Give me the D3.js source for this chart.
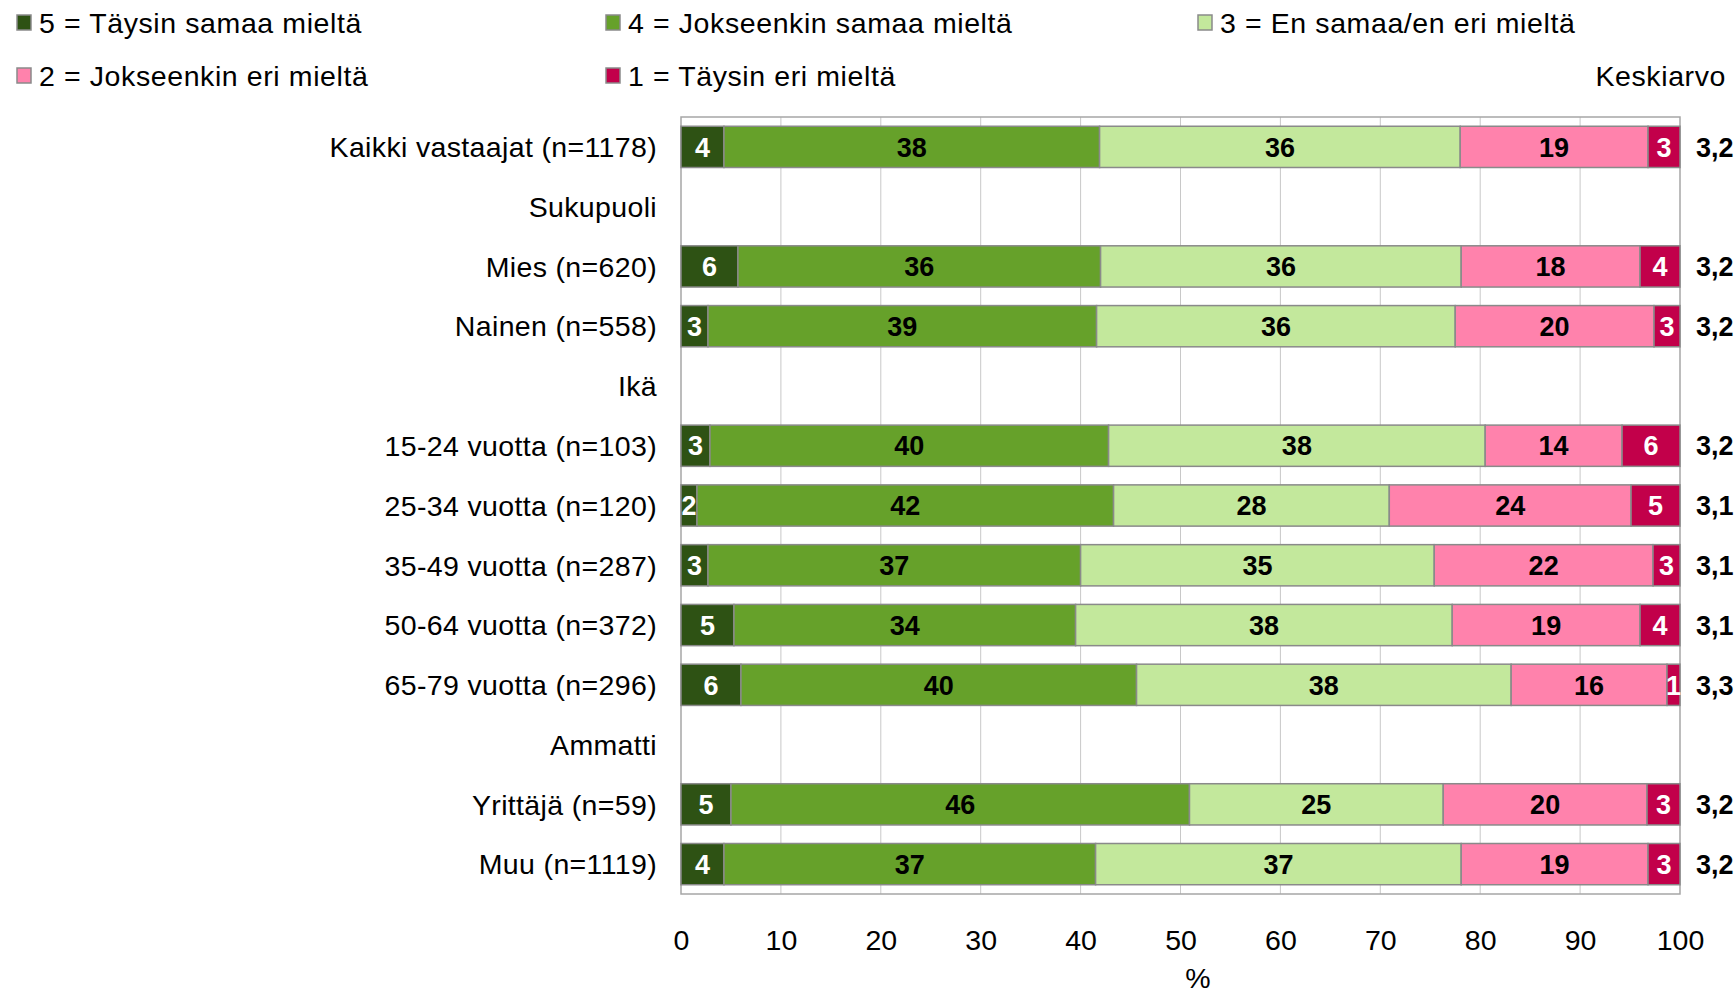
<!DOCTYPE html>
<html><head><meta charset="utf-8">
<script src="https://cdn.jsdelivr.net/npm/d3@7"></script>
<style>body{margin:0;background:#fff}svg{display:block;font-family:"Liberation Sans",Arial,sans-serif}</style>
</head><body><svg id="c" width="1735" height="993"></svg>
<script>
const categories = ["Kaikki vastaajat (n=1178)","Sukupuoli","Mies (n=620)","Nainen (n=558)","Ikä","15-24 vuotta (n=103)","25-34 vuotta (n=120)","35-49 vuotta (n=287)","50-64 vuotta (n=372)","65-79 vuotta (n=296)","Ammatti","Yrittäjä (n=59)","Muu (n=1119)"];
const seriesNames = ["5 = Täysin samaa mieltä","4 = Jokseenkin samaa mieltä","3 = En samaa/en eri mieltä","2 = Jokseenkin eri mieltä","1 = Täysin eri mieltä"];
const s5 = [4.3,null,5.7,2.7,null,2.9,1.6,2.7,5.3,6.0,null,5.0,4.3];
const s4 = [37.6,null,36.3,38.9,null,39.9,41.7,37.3,34.2,39.6,null,45.9,37.2];
const s3 = [36.1,null,36.1,35.9,null,37.7,27.6,35.4,37.7,37.5,null,25.4,36.6];
const s2 = [18.8,null,17.9,19.9,null,13.7,24.2,21.9,18.8,15.6,null,20.4,18.7];
const s1 = [3.2,null,4.0,2.6,null,5.8,4.9,2.7,4.0,1.3,null,3.3,3.2];
const averages = ["3,2","","3,2","3,2","","3,2","3,1","3,1","3,1","3,3","","3,2","3,2"];
const ticks = [0,10,20,30,40,50,60,70,80,90,100];
const colors = ["#2e5214","#66a12a","#c3e89c","#ff82ac","#c2004a"];
const labelColors = ["#fff","#000","#000","#000","#fff"];

const svg = d3.select("#c");
const x = d3.scaleLinear().domain([0,100]).range([681,1680]);
const y = d3.scaleBand().domain(categories).range([117,894]).paddingInner(0.31).paddingOuter(0.155);
const FS = 28.5, LS = 0.6, BFS = 27;

svg.append("g").selectAll("line").data(ticks.slice(1,-1)).join("line")
  .attr("x1",d=>x(d)).attr("x2",d=>x(d)).attr("y1",117).attr("y2",894)
  .attr("stroke","#c8c8c8").attr("stroke-width",1);
svg.append("rect").attr("x",x(0)).attr("y",117).attr("width",x(100)-x(0)).attr("height",894-117)
  .attr("stroke","#a6a6a6").attr("stroke-width",1.5).attr("fill","none");

const series = [s5,s4,s3,s2,s1];
const rows = categories.map((c,i)=>({c, vals: series.map(s=>s[i])}));
const gBars = svg.append("g");
rows.forEach(r=>{
  if (r.vals[0]==null) return;
  let acc = 0;
  r.vals.forEach((v,k)=>{
    const x0 = x(acc), x1 = x(acc+v);
    gBars.append("rect").attr("x",x0).attr("y",y(r.c)).attr("width",x1-x0).attr("height",y.bandwidth())
      .attr("fill",colors[k]).attr("stroke","#8a8a8a").attr("stroke-width",1.5);
    gBars.append("text").attr("x",(x0+x1)/2).attr("y",y(r.c)+y.bandwidth()/2).attr("dy","0.36em")
      .attr("text-anchor","middle").attr("font-weight","bold").attr("font-size",BFS)
      .attr("fill",labelColors[k]).text(Math.round(v));
    acc += v;
  });
});

svg.append("g").selectAll("text").data(categories).join("text")
  .attr("x",657).attr("y",d=>y(d)+y.bandwidth()/2).attr("dy","0.36em")
  .attr("text-anchor","end").attr("font-size",FS).attr("letter-spacing",0.35).attr("fill","#000").text(d=>d);

svg.append("g").selectAll("text").data(categories).join("text")
  .attr("x",1696).attr("y",d=>y(d)+y.bandwidth()/2).attr("dy","0.36em")
  .attr("font-size",BFS).attr("font-weight","bold").text((d,i)=>averages[i]);

const ax = svg.append("g").attr("transform","translate(0,894)")
  .call(d3.axisBottom(x).tickValues(ticks).tickSize(0).tickPadding(36));
ax.select(".domain").remove();
ax.selectAll("text").attr("font-size",FS).attr("fill","#000").attr("font-family","Liberation Sans, Arial, sans-serif");
svg.append("text").attr("x",1198).attr("y",978).attr("dy","0.36em").attr("text-anchor","middle")
  .attr("font-size",FS).text("%");

const legPos = [[17,23],[606,23],[1198,23],[17,76],[606,76]];
const lg = svg.append("g");
seriesNames.forEach((n,k)=>{
  const [lx,ly] = legPos[k];
  lg.append("rect").attr("x",lx).attr("y",ly-8).attr("width",14).attr("height",15)
    .attr("fill",colors[k]).attr("stroke","#8a8a8a").attr("stroke-width",1.5);
  lg.append("text").attr("x",lx+22).attr("y",ly).attr("dy","0.36em").attr("font-size",FS)
    .attr("letter-spacing",LS).text(n);
});
svg.append("text").attr("x",1726).attr("y",76).attr("dy","0.36em").attr("text-anchor","end")
  .attr("font-size",FS).attr("letter-spacing",LS).text("Keskiarvo");
</script></body></html>
